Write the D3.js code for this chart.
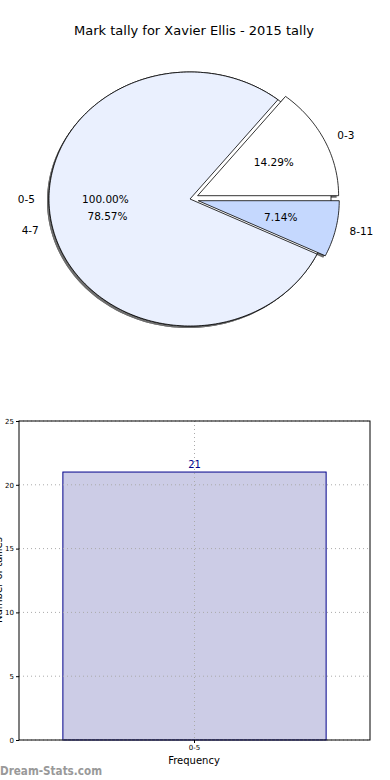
<!DOCTYPE html>
<html>
<head>
<meta charset="utf-8">
<script src="https://cdn.jsdelivr.net/npm/d3@7"></script>
<style>
  body { margin:0; background:#fff; }
  svg { display:block; font-family:"DejaVu Sans", sans-serif; }
</style>
</head>
<body>
<div class="canvas"></div>
<script>
// data
const titleText = 'Mark tally for Xavier Ellis - 2015 tally'
const outerCats = ['0-5']
const outerValues = [21]
const outerColors = ['#ffffff']
const innerCats = ['0-3', '4-7', '8-11']
const innerValues = [3, 16.5, 1.5]
const innerColors = ['#ffffff', '#eaf0fe', '#c5d8fe']
const innerExplode = [0.06, 0, 0.06]
const barCats = ['0-5']
const barValues = [21]
const yTicks = [0, 5, 10, 15, 20, 25]

const svg = d3.select('.canvas').append('svg').attr('width', 390).attr('height', 780)

svg.append('text').attr('x', 194).attr('y', 35).attr('text-anchor', 'middle')
  .attr('font-size', 13).attr('fill', '#000').text(titleText)

// ---- pie (ellipse, angles ccw from 3 o'clock like matplotlib) ----
const cx = 190, cy = 199, rx = 141, ry = 127
const pieG = svg.append('g')
const shadowLayer = pieG.append('g')
const sliceLayer = pieG.append('g')
const textLayer = pieG.append('g')

const wedgePath = (a0, a1, ox, oy) => {
  const p = d3.path()
  const px = a => cx + ox + rx * Math.cos(a)
  const py = a => cy + oy - ry * Math.sin(a)
  const span = a1 - a0
  const full = span >= 2 * Math.PI - 1e-6
  if (!full) { p.moveTo(cx + ox, cy + oy); p.lineTo(px(a0), py(a0)) } else p.moveTo(px(a0), py(a0))
  const n = Math.max(8, Math.ceil(span / 0.02))
  for (let i = 1; i <= n; i++) {
    const a = a0 + span * i / n
    p.lineTo(px(a), py(a))
  }
  p.closePath()
  return p.toString()
}

const drawPie = (cats, values, colors, explode) => {
  const total = d3.sum(values)
  const angles = d3.cumsum([0, ...values]).map(v => v / total * 2 * Math.PI)
  values.forEach((v, i) => {
    const a0 = angles[i], a1 = angles[i + 1], mid = (a0 + a1) / 2
    const ox = explode[i] * rx * Math.cos(mid)
    const oy = -explode[i] * ry * Math.sin(mid)
    shadowLayer.append('path').attr('d', wedgePath(a0, a1, ox - 2, oy + 2)).attr('fill', '#6e6e6e')
    sliceLayer.append('path').attr('d', wedgePath(a0, a1, ox, oy))
      .attr('fill', colors[i]).attr('stroke', '#000').attr('stroke-width', 0.8)
    const lx = cx + ox + 1.1 * rx * Math.cos(mid)
    const ly = cy + oy - 1.1 * ry * Math.sin(mid)
    textLayer.append('text').attr('x', lx).attr('y', ly).attr('dy', '0.35em')
      .attr('text-anchor', Math.cos(mid) > 0 ? 'start' : 'end')
      .attr('font-size', 10.5).text(cats[i])
    const tx = cx + ox + 0.6 * rx * Math.cos(mid)
    const ty = cy + oy - 0.6 * ry * Math.sin(mid)
    textLayer.append('text').attr('x', tx).attr('y', ty).attr('dy', '0.35em')
      .attr('text-anchor', 'middle').attr('font-size', 10.5)
      .text((v / total * 100).toFixed(2) + '%')
  })
}

drawPie(outerCats, outerValues, outerColors, [0])
drawPie(innerCats, innerValues, innerColors, innerExplode)

// ---- bar chart ----
const margin = { top: 421, left: 19 }
const graphWidth = 370 - margin.left
const graphHeight = 740 - margin.top
const graph = svg.append('g').attr('transform', `translate(${margin.left},${margin.top})`)

const x = d3.scaleBand().domain(barCats).range([0, graphWidth]).paddingInner(0.25).paddingOuter(0.125)
const y = d3.scaleLinear().domain([0, 25]).range([graphHeight, 0])

// bar
graph.selectAll('rect.bar').data(barValues).enter().append('rect').attr('class', 'bar')
  .attr('x', (d, i) => x(barCats[i])).attr('width', x.bandwidth())
  .attr('y', d => y(d)).attr('height', d => graphHeight - y(d))
  .attr('fill', '#cccce6').attr('stroke', '#00008b').attr('stroke-width', 1)

// grid
graph.append('g').selectAll('line').data(yTicks).enter().append('line')
  .attr('x1', 0).attr('x2', graphWidth).attr('y1', d => y(d)).attr('y2', d => y(d))
  .attr('stroke', '#aaa').attr('stroke-width', 1).attr('stroke-dasharray', '1,3')
graph.append('g').selectAll('line').data(barCats).enter().append('line')
  .attr('x1', d => x(d) + x.bandwidth() / 2).attr('x2', d => x(d) + x.bandwidth() / 2)
  .attr('y1', 0).attr('y2', graphHeight)
  .attr('stroke', '#aaa').attr('stroke-width', 1).attr('stroke-dasharray', '1,3')

// value label
graph.selectAll('text.val').data(barValues).enter().append('text').attr('class', 'val')
  .attr('x', (d, i) => x(barCats[i]) + x.bandwidth() / 2).attr('y', d => y(d) - 4)
  .attr('text-anchor', 'middle').attr('font-size', 10).attr('fill', '#00008b').text(d => d)

// frame
graph.append('rect').attr('width', graphWidth).attr('height', graphHeight)
  .attr('fill', 'none').attr('stroke', '#000').attr('stroke-width', 1)

// axes
const yAxis = d3.axisLeft(y).tickValues(yTicks).tickSize(3).tickPadding(2)
const yAxisGroup = graph.append('g').call(yAxis)
yAxisGroup.select('.domain').remove()
yAxisGroup.selectAll('text').attr('font-size', 7).attr('font-family', 'DejaVu Sans')

const xAxis = d3.axisBottom(x).tickSize(3).tickPadding(2)
const xAxisGroup = graph.append('g').attr('transform', `translate(0,${graphHeight})`).call(xAxis)
xAxisGroup.select('.domain').remove()
xAxisGroup.selectAll('text').attr('font-size', 7).attr('font-family', 'DejaVu Sans')

svg.append('text').attr('x', 194).attr('y', 764).attr('text-anchor', 'middle')
  .attr('font-size', 10).text('Frequency')
// y label sits mostly off the left edge, as in the reference
svg.append('text').attr('transform', 'translate(1.5,580) rotate(-90)').attr('text-anchor', 'middle')
  .attr('font-size', 10).attr('fill', '#000').text('Number of tallies')

// watermark
svg.append('text').attr('x', 0).attr('y', 775).attr('font-size', 11.5).attr('font-weight', 'bold')
  .attr('fill', '#999').attr('textLength', 102).attr('lengthAdjust', 'spacingAndGlyphs')
  .text('Dream-Stats.com')
</script>
</body>
</html>
